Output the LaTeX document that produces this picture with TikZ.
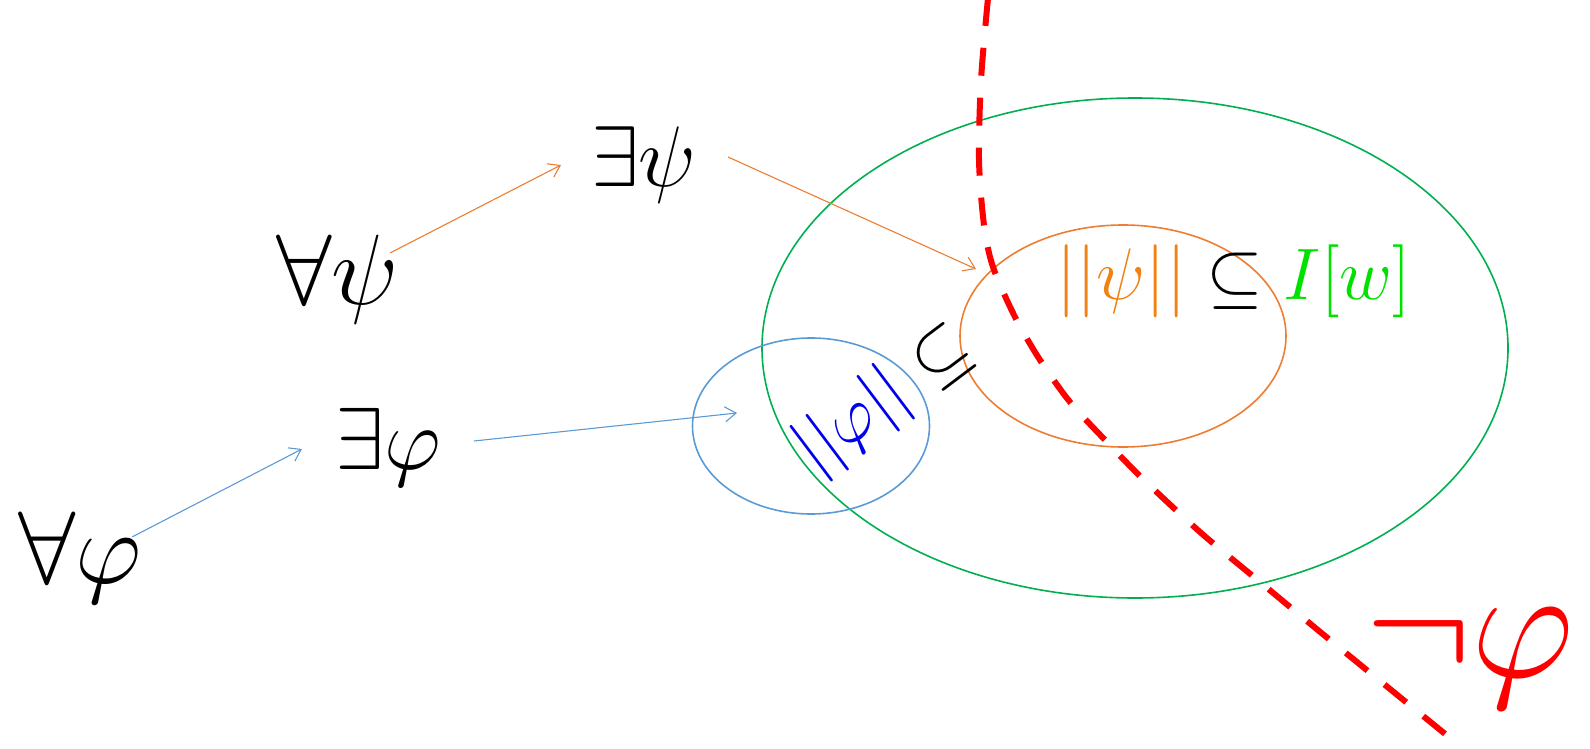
\RequirePackage{fix-cm}
\documentclass[tikz,border=0pt]{standalone}
\usetikzlibrary{arrows.meta,shapes.geometric}
\definecolor{pgreen}{RGB}{0,176,80}
\definecolor{porange}{RGB}{237,125,49}
\definecolor{pblue}{RGB}{91,155,213}
\definecolor{tgreen}{RGB}{0,225,0}
\definecolor{torange}{RGB}{240,130,20}
\definecolor{tblue}{RGB}{0,0,235}
\definecolor{pred}{RGB}{255,0,0}
\tikzset{
  sym/.style={inner sep=0pt, anchor=base west},
  ell/.style={ellipse, inner sep=0pt, line width=1.6pt},
  conn/.style={line width=1.1pt, -{Straight Barb[length=11pt,width=15pt]}},
  reddash/.style={pred, line width=6pt, dash pattern=on 28pt off 22pt}
}
\begin{document}
\begin{tikzpicture}[x=1pt,y=-1pt]
\useasboundingbox (0,0) rectangle (1590,749);
% ellipses
\node[ell, draw=pgreen, minimum width=746pt, minimum height=500pt] (gell) at (1135,348) {};
\node[ell, draw=porange, minimum width=326pt, minimum height=222pt] (oell) at (1123,336) {};
\node[ell, draw=pblue, minimum width=237pt, minimum height=176pt] (bell) at (811,426) {};
% formula nodes
\node[sym, font=\fontsize{100}{100}\selectfont] (apsi) at (276,304) {$\forall\psi$};
\node[sym, font=\fontsize{86}{86}\selectfont] (epsi) at (591,186) {$\exists\psi$};
\node[sym, font=\fontsize{88}{88}\selectfont] (ephi) at (335,469) {$\exists\varphi$};
\node[sym, font=\fontsize{103}{103}\selectfont] (aphi) at (18,583) {$\forall\varphi$};
% labels
\node[sym, font=\fontsize{73}{73}\selectfont] (lab) at (1056,299)
  {$\textcolor{torange}{||\psi||}\subseteq\textcolor{tgreen}{I[w]}$};
\node[inner sep=0pt, rotate=37, text=tblue, font=\fontsize{70}{70}\selectfont] (nphi) at (853,423) {$||\varphi||$};
\node[inner sep=0pt, rotate=37, font=\fontsize{72}{72}\selectfont] (sub) at (943,357) {$\subseteq$};
\node[sym, text=pred, font=\fontsize{160}{160}\selectfont] (neg) at (1365,677) {$\neg\varphi$};
% connector end points
\coordinate (s1) at (390,253);
\coordinate (t1) at (561,165);
\coordinate (s2) at (728,157);
\coordinate (t2) at (976,269);
\coordinate (s3) at (132,537);
\coordinate (t3) at (302,449);
\coordinate (s4) at (474,441);
\coordinate (t4) at (737,413);
\draw[conn, porange] (s1) -- (t1);
\draw[conn, porange] (s2) -- (t2);
\draw[conn, pblue] (s3) -- (t3);
\draw[conn, pblue] (s4) -- (t4);
% red dashed curve
\draw[reddash] plot[smooth, tension=0.5] coordinates
  {(988,-2) (981,80) (979,160) (984,225) (993,267) (1015,317) (1040,360)
   (1070,402) (1105,440) (1142,478) (1200,532) (1260,582) (1330,640) (1455,742)};
\end{tikzpicture}
\end{document}
